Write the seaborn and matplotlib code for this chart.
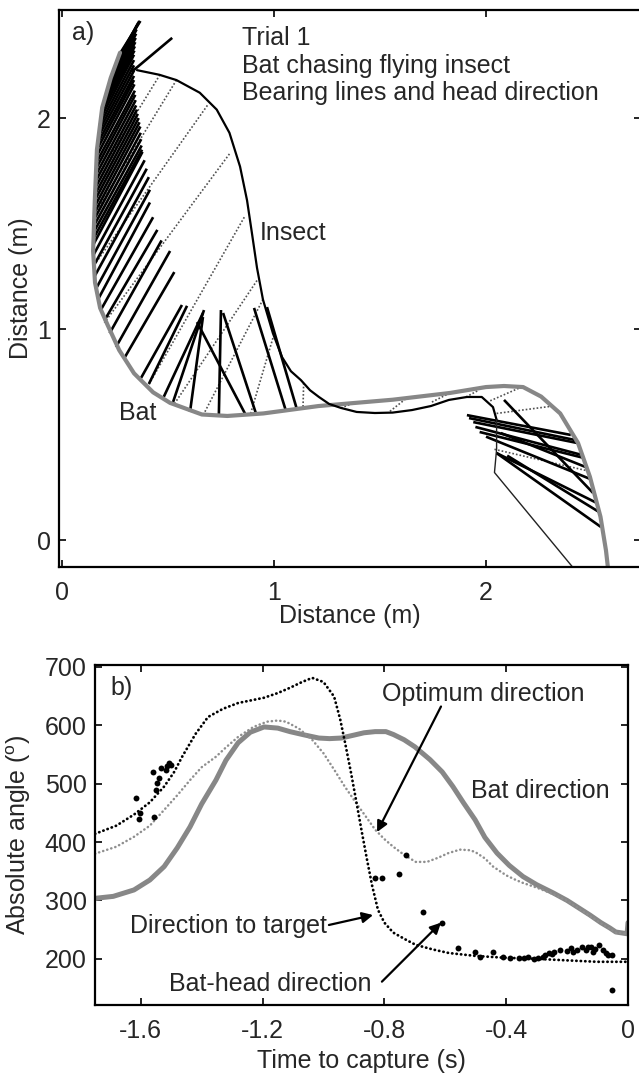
"""
Bat chasing a flying insect: a) bearing lines and head direction,
b) absolute angles vs. time to capture.
"""

import matplotlib
matplotlib.use("Agg")
import matplotlib.pyplot as plt
import numpy as np
import pandas as pd
import seaborn as sns

# ── Panel a: trajectories (m) ───────────────────────────────────────────────
bat_x = [0.274, 0.23, 0.19, 0.165, 0.155, 0.147, 0.156, 0.18, 0.215, 0.27,
         0.34, 0.43, 0.51, 0.66, 0.78, 0.95, 1.21, 1.56, 1.83, 2.0, 2.085,
         2.175, 2.26, 2.35, 2.434, 2.49, 2.54, 2.566, 2.575]
bat_y = [2.31, 2.19, 2.05, 1.85, 1.61, 1.37, 1.22, 1.10, 1.02, 0.90,
         0.79, 0.70, 0.65, 0.595, 0.588, 0.60, 0.635, 0.665, 0.697, 0.725, 0.73,
         0.725, 0.68, 0.60, 0.46, 0.30, 0.11, -0.05, -0.13]

insect_x = [0.354, 0.46, 0.54, 0.65, 0.73, 0.79, 0.84, 0.873, 0.896, 0.92,
            0.948, 0.995, 1.038, 1.08, 1.127, 1.17, 1.212, 1.26, 1.316, 1.39,
            1.476, 1.56, 1.651, 1.74, 1.825, 1.91, 1.98, 2.033, 2.05]
insect_y = [2.227, 2.205, 2.18, 2.12, 2.04, 1.93, 1.77, 1.61, 1.455, 1.29,
            1.14, 0.98, 0.867, 0.80, 0.758, 0.71, 0.678, 0.645, 0.626, 0.607,
            0.602, 0.604, 0.616, 0.635, 0.664, 0.678, 0.678, 0.63, 0.57]
# last, thinner stretch of the insect track
insect_end_x = [2.05, 2.05, 2.04, 2.41]
insect_end_y = [0.57, 0.43, 0.32, -0.13]

# head direction segments: start on bat track -> end point
head_x0 = [0.270, 0.259, 0.248, 0.237, 0.227, 0.218, 0.210, 0.201, 0.193, 0.187,
           0.183, 0.179, 0.175, 0.171, 0.168, 0.165, 0.164, 0.163, 0.161, 0.160,
           0.159, 0.158, 0.157, 0.155, 0.154, 0.153, 0.152, 0.151, 0.150, 0.149,
           0.148, 0.148, 0.150, 0.154, 0.160, 0.170, 0.183, 0.200, 0.225, 0.255,
           0.297, 0.373, 0.41, 0.48, 0.524, 0.604, 0.863, 0.74, 0.915, 1.057,
           1.108, 0.33,
           2.40, 2.42, 2.43, 2.453, 2.462, 2.47, 2.49, 2.505, 2.524, 2.533, 2.542]
head_y0 = [2.30, 2.27, 2.24, 2.21, 2.18, 2.15, 2.12, 2.09, 2.06, 2.03,
           2.00, 1.97, 1.94, 1.91, 1.88, 1.85, 1.82, 1.79, 1.76, 1.73,
           1.70, 1.67, 1.64, 1.61, 1.58, 1.55, 1.52, 1.49, 1.46, 1.43,
           1.40, 1.35, 1.30, 1.25, 1.19, 1.14, 1.09, 1.04, 0.98, 0.915,
           0.867, 0.768, 0.74, 0.678, 0.654, 0.607, 0.60, 0.59, 0.60, 0.61,
           0.62, 2.22,
           0.498, 0.474, 0.46, 0.403, 0.389, 0.346, 0.29, 0.223, 0.175, 0.133, 0.062]
head_x1 = [0.370, 0.365, 0.360, 0.355, 0.352, 0.350, 0.348, 0.346, 0.344, 0.342,
           0.340, 0.340, 0.340, 0.340, 0.340, 0.340, 0.342, 0.344, 0.346, 0.348,
           0.350, 0.354, 0.358, 0.362, 0.366, 0.370, 0.372, 0.374, 0.376, 0.378,
           0.380, 0.39, 0.40, 0.41, 0.415, 0.415, 0.43, 0.45, 0.47, 0.51,
           0.53, 0.566, 0.59, 0.665, 0.67, 0.665, 0.637, 0.75, 0.76, 0.906,
           0.967, 0.52,
           1.91, 1.92, 1.94, 1.95, 1.97, 2.07, 2.00, 2.085, 2.05, 2.10, 2.05]
head_y1 = [2.46, 2.46, 2.45, 2.44, 2.42, 2.40, 2.38, 2.36, 2.34, 2.32,
           2.30, 2.275, 2.25, 2.225, 2.20, 2.18, 2.16, 2.13, 2.11, 2.085,
           2.06, 2.04, 2.02, 2.00, 1.98, 1.96, 1.93, 1.90, 1.87, 1.85,
           1.84, 1.80, 1.76, 1.72, 1.66, 1.60, 1.53, 1.47, 1.42, 1.37,
           1.27, 1.114, 1.11, 1.076, 1.09, 1.057, 1.033, 1.09, 1.076, 1.10,
           1.104, 2.38,
           0.592, 0.578, 0.559, 0.536, 0.512, 0.507, 0.49, 0.664, 0.412, 0.40, 0.412]

# bearing lines: insect position -> bat position at the same instant
bear_ix = [0.462, 0.54, 0.686, 0.79, 0.86, 0.92, 0.948, 0.995, 1.14, 1.316,
           1.547, 1.745, 1.906, 2.02, 2.05, 2.04]
bear_iy = [2.205, 2.18, 2.06, 1.83, 1.53, 1.23, 1.14, 0.957, 0.744, 0.626,
           0.61, 0.654, 0.678, 0.66, 0.60, 0.43]
bear_bx = [0.165, 0.157, 0.150, 0.20, 0.40, 0.53, 0.665, 0.89, 1.137, 1.387,
           1.62, 1.816, 1.967, 2.156, 2.316, 2.47]
bear_by = [1.72, 1.55, 1.30, 1.03, 0.72, 0.645, 0.59, 0.60, 0.63, 0.654,
           0.668, 0.69, 0.711, 0.72, 0.635, 0.33]

# ── Panel b: angles (deg) vs time to capture (s) ───────────────────────────
bat_dir_t = [-1.75, -1.743, -1.69, -1.622, -1.57, -1.523, -1.48, -1.438, -1.40,
             -1.353, -1.32, -1.28, -1.24, -1.195, -1.15, -1.11, -1.06, -1.015,
             -0.98, -0.942, -0.90, -0.867, -0.83, -0.795, -0.77, -0.735, -0.70,
             -0.65, -0.61, -0.575, -0.54, -0.502, -0.47, -0.43, -0.39, -0.345,
             -0.30, -0.246, -0.20, -0.161, -0.125, -0.089, -0.06, -0.04, -0.003,
             0.0]
bat_dir_v = [303, 304, 307, 318, 335, 358, 390, 426, 465,
             506, 540, 570, 588, 597, 595, 589, 583, 578,
             577, 578, 583, 587, 589, 589, 584, 575, 563,
             541, 520, 495, 467, 438, 408, 381, 360, 341,
             327, 313, 300, 287, 275, 262, 253, 246, 243,
             262]

target_t = [-1.75, -1.68, -1.622, -1.57, -1.523, -1.49, -1.464, -1.42, -1.379,
            -1.33, -1.28, -1.195, -1.15, -1.11, -1.07, -1.037, -1.0, -0.965,
            -0.945, -0.929, -0.91, -0.893, -0.875, -0.857, -0.84, -0.821, -0.80,
            -0.771, -0.73, -0.697, -0.64, -0.588, -0.50, -0.407, -0.30, -0.223,
            -0.102, 0.0]
target_v = [414, 428, 447, 468, 495, 520, 546, 585, 614,
            628, 638, 647, 655, 664, 674, 681, 674, 649,
            610, 570, 520, 472, 420, 370, 325, 284, 262,
            245, 233, 224, 216, 210, 205, 202, 200, 198,
            195, 195]

optimum_t = [-1.75, -1.68, -1.622, -1.57, -1.523, -1.48, -1.438, -1.40, -1.353,
             -1.32, -1.28, -1.23, -1.185, -1.15, -1.123, -1.08, -1.037, -1.0,
             -0.965, -0.93, -0.893, -0.86, -0.83, -0.80, -0.771, -0.735, -0.697,
             -0.66, -0.624, -0.59, -0.552, -0.52, -0.502, -0.47, -0.443, -0.40,
             -0.368, -0.345, -0.30, -0.246, -0.20, -0.161, -0.125, -0.089,
             -0.04, 0.0]
optimum_v = [380, 392, 409, 428, 455, 480, 506, 528, 546,
             562, 580, 597, 606, 608, 606, 594, 575, 552,
             524, 495, 467, 443, 421, 405, 392, 378, 366,
             366, 373, 381, 387, 386, 383, 372, 358, 343,
             335, 330, 322, 311, 299, 286, 273, 261,
             245, 243]

head_t = [-1.615, -1.602, -1.605, -1.56, -1.55, -1.556, -1.546, -1.54, -1.533,
          -1.517, -1.514, -1.507, -1.5,
          -0.729, -0.83, -0.807, -0.752, -0.673, -0.61,
          -0.558, -0.502, -0.486, -0.443, -0.41, -0.387, -0.357, -0.327, -0.295,
          -0.272, -0.259, -0.243, -0.223, -0.2, -0.187, -0.167, -0.151, -0.138,
          -0.121, -0.108, -0.095, -0.082, -0.072, -0.066, -0.053, -0.053,
          -0.31, -0.34, -0.28, -0.25, -0.18, -0.13, -0.115]
head_v = [476, 450, 440, 520, 489, 443, 501, 510, 527,
          524, 530, 536, 532,
          378, 339, 339, 346, 280, 262,
          219, 212, 203, 212, 203, 202, 202, 203, 202,
          207, 210, 212, 215, 214, 219, 215, 220, 215,
          220, 217, 224, 215, 210, 207, 207, 147,
          200, 201, 204, 208, 212, 221, 212]

FS = 18
GRAY = "#878787"


def style_axes(ax):
    ax.tick_params(direction="in", top=True, right=True, length=5, width=1.2,
                   labelsize=FS, color="black")
    ax.tick_params(axis="x", pad=10)
    ax.tick_params(axis="y", pad=6)
    for sp in ax.spines.values():
        sp.set_visible(True)
        sp.set_linewidth(1.6)
        sp.set_color("black")


def main():
    sns.set_theme(style="ticks")
    plt.rcParams["font.family"] = ["Liberation Sans", "DejaVu Sans"]
    plt.rcParams["axes.unicode_minus"] = False
    plt.rcParams["mathtext.fontset"] = "custom"
    plt.rcParams["mathtext.rm"] = "Liberation Sans"

    fig = plt.figure(figsize=(6.39, 10.78), dpi=100)

    # ── a) ──────────────────────────────────────────────────────────────────
    axa = fig.add_axes([0.0923, 0.4740, 0.9108, 0.5167])

    for x0, y0, x1, y1 in zip(bear_ix, bear_iy, bear_bx, bear_by):
        axa.plot([x0, x1], [y0, y1], color="#505050", lw=1.2,
                 linestyle=(0, (1, 1.2)))
    for x0, y0, x1, y1 in zip(head_x0, head_y0, head_x1, head_y1):
        axa.plot([x0, x1], [y0, y1], color="black", lw=1.9,
                 solid_capstyle="butt")

    sns.lineplot(x=bat_x, y=bat_y, sort=False, estimator=None, color=GRAY,
                 lw=3.0, ax=axa, solid_joinstyle="round")
    sns.lineplot(x=insect_x, y=insect_y, sort=False, estimator=None,
                 color="black", lw=1.6, ax=axa)
    sns.lineplot(x=insect_end_x, y=insect_end_y, sort=False, estimator=None,
                 color="#222222", lw=1.0, ax=axa)

    axa.set_xlim(-0.014, 2.731)
    axa.set_ylim(-0.128, 2.512)
    axa.set_xticks([0, 1, 2])
    axa.set_xticklabels(["0", "1", "2"])
    axa.set_yticks([0, 1, 2])
    axa.set_yticklabels(["0", "1", "2"])
    style_axes(axa)
    axa.set_xlabel("Distance (m)", fontsize=FS)
    axa.set_ylabel("Distance (m)", fontsize=FS)
    axa.xaxis.set_label_coords(0.5, -0.066)
    axa.xaxis.label.set_va("top")
    axa.yaxis.set_label_coords(-0.045, 0.5)

    axa.text(0.047, 2.37, "a)", fontsize=FS, va="baseline")
    axa.text(0.849, 2.346, "Trial 1", fontsize=FS, va="baseline")
    axa.text(0.849, 2.213, "Bat chasing flying insect", fontsize=FS,
             va="baseline")
    axa.text(0.849, 2.085, "Bearing lines and head direction", fontsize=FS,
             va="baseline")
    axa.text(0.934, 1.422, "Insect", fontsize=FS, va="baseline")
    axa.text(0.269, 0.569, "Bat", fontsize=FS, va="baseline")

    # ── b) ──────────────────────────────────────────────────────────────────
    axb = fig.add_axes([0.1487, 0.0677, 0.8341, 0.3154])

    sns.lineplot(x=bat_dir_t, y=bat_dir_v, sort=False, estimator=None,
                 color=GRAY, lw=3.6, ax=axb)
    sns.lineplot(x=optimum_t, y=optimum_v, sort=False, estimator=None,
                 color="#8f8f8f", lw=1.8, linestyle=(0, (0.1, 1.6)),
                 dash_capstyle="round", ax=axb)
    sns.lineplot(x=target_t, y=target_v, sort=False, estimator=None,
                 color="black", lw=2.0, linestyle=(0, (0.1, 1.5)),
                 dash_capstyle="round", ax=axb)
    sns.scatterplot(x=head_t, y=head_v, color="black", s=18, linewidth=0,
                    ax=axb, zorder=5)

    axb.set_xlim(-1.75, 0)
    axb.set_ylim(121, 703)
    axb.set_xticks([-1.6, -1.2, -0.8, -0.4, 0])
    axb.set_xticklabels(["-1.6", "-1.2", "-0.8", "-0.4", "0"])
    axb.set_yticks([200, 300, 400, 500, 600, 700])
    axb.set_yticklabels(["200", "300", "400", "500", "600", "700"])
    style_axes(axb)
    axb.set_xlabel("Time to capture (s)", fontsize=FS)
    axb.set_ylabel(r"Absolute angle ($^{\rm o}$)", fontsize=FS)
    axb.xaxis.set_label_coords(0.5, -0.13)
    axb.xaxis.label.set_va("top")
    axb.yaxis.set_label_coords(-0.116, 0.5)

    arrow = dict(arrowstyle="-|>", color="black", lw=1.6, mutation_scale=16,
                 shrinkA=0, shrinkB=0)
    axb.text(-1.70, 652, "b)", fontsize=FS, va="baseline")
    axb.text(-0.808, 642, "Optimum direction", fontsize=FS, va="baseline")
    axb.annotate("", xy=(-0.824, 417), xytext=(-0.614, 632), arrowprops=arrow)
    axb.text(-0.515, 476, "Bat direction", fontsize=FS, va="baseline")
    axb.text(-0.988, 244, "Direction to target", fontsize=FS, va="baseline",
             ha="right")
    axb.annotate("", xy=(-0.837, 275), xytext=(-0.982, 258), arrowprops=arrow)
    axb.text(-1.507, 145, "Bat-head direction", fontsize=FS, va="baseline")
    axb.annotate("", xy=(-0.614, 262), xytext=(-0.808, 161), arrowprops=arrow)

    fig.savefig("out.png", dpi=100)
    plt.close(fig)


if __name__ == "__main__":
    main()
